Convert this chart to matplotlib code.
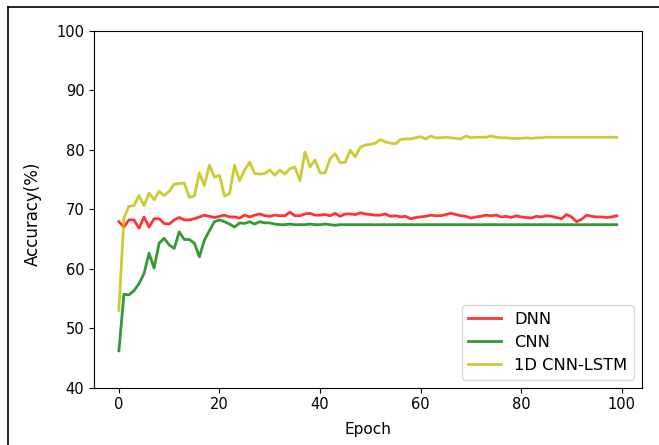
import matplotlib

matplotlib.use("Agg")
import matplotlib.pyplot as plt
from matplotlib.lines import Line2D
import numpy as np

W, H = 659, 445

# accuracy per epoch
dnn = [67.9, 67.0, 68.2, 68.2, 66.8, 68.7, 67.0, 68.4, 68.4, 67.6,
       67.5, 68.2, 68.6, 68.2, 68.2, 68.4, 68.7, 69.0, 68.8, 68.6,
       68.8, 69.0, 68.7, 68.7, 68.5, 69.0, 68.7, 69.0, 69.2, 68.9,
       68.8, 69.0, 68.9, 68.9, 69.5, 68.9, 68.9, 69.2, 69.3, 69.0,
       69.0, 69.1, 68.9, 69.3, 68.8, 69.2, 69.2, 69.1, 69.4, 69.2,
       69.1, 69.0, 69.0, 69.2, 68.8, 68.9, 68.7, 68.8, 68.4, 68.6,
       68.7, 68.8, 69.0, 68.9, 68.9, 69.1, 69.3, 69.1, 68.9, 68.8,
       68.5, 68.7, 68.8, 69.0, 68.9, 69.0, 68.7, 68.8, 68.6, 68.9,
       68.7, 68.6, 68.5, 68.8, 68.7, 68.9, 68.8, 68.6, 68.4, 69.1,
       68.7, 67.9, 68.3, 69.0, 68.8, 68.7, 68.7, 68.6, 68.7, 68.9]

cnn = [46.2, 55.7, 55.6, 56.3, 57.5, 59.2, 62.6, 60.1, 64.3, 65.1,
       64.0, 63.4, 66.2, 64.9, 64.9, 64.3, 62.0, 64.8, 66.4, 67.9,
       68.2, 67.9, 67.5, 67.0, 67.7, 67.6, 67.9, 67.5, 67.9, 67.7,
       67.7, 67.5, 67.4, 67.4, 67.5, 67.4, 67.4, 67.4, 67.5, 67.4,
       67.4, 67.5, 67.4, 67.3, 67.4, 67.4, 67.4, 67.4, 67.4, 67.4,
       67.4, 67.4, 67.4, 67.4, 67.4, 67.4, 67.4, 67.4, 67.4, 67.4,
       67.4, 67.4, 67.4, 67.4, 67.4, 67.4, 67.4, 67.4, 67.4, 67.4,
       67.4, 67.4, 67.4, 67.4, 67.4, 67.4, 67.4, 67.4, 67.4, 67.4,
       67.4, 67.4, 67.4, 67.4, 67.4, 67.4, 67.4, 67.4, 67.4, 67.4,
       67.4, 67.4, 67.4, 67.4, 67.4, 67.4, 67.4, 67.4, 67.4, 67.4]

cnn_lstm = [53.0, 68.5, 70.5, 70.6, 72.3, 70.6, 72.7, 71.6, 73.0, 72.3,
            73.0, 74.2, 74.3, 74.4, 72.0, 72.2, 76.1, 74.0, 77.4, 75.4,
            75.7, 72.2, 72.6, 77.4, 74.8, 76.6, 77.9, 76.0, 75.9, 76.0,
            76.6, 75.7, 76.6, 75.9, 76.8, 77.1, 74.8, 79.6, 77.1, 78.3,
            76.1, 76.1, 78.5, 79.3, 77.8, 77.9, 79.9, 78.8, 80.4, 80.8,
            80.9, 81.1, 81.7, 81.3, 81.1, 81.0, 81.7, 81.8, 81.8, 82.0,
            82.2, 81.8, 82.3, 82.0, 82.0, 82.1, 82.0, 81.9, 81.8, 82.3,
            82.0, 82.1, 82.1, 82.1, 82.3, 82.1, 82.0, 82.0, 81.9, 81.9,
            81.9, 82.0, 81.9, 82.0, 82.0, 82.1, 82.1, 82.1, 82.1, 82.1,
            82.1, 82.1, 82.1, 82.1, 82.1, 82.1, 82.1, 82.1, 82.1, 82.1]

epochs = np.arange(len(dnn))

fig = plt.figure(figsize=(W / 100, H / 100), dpi=100)
ax = fig.add_axes([94 / W, 1 - 387.7 / H, (641.7 - 94) / W, (387.7 - 30.7) / H])

ax.plot(epochs, dnn, color="r", alpha=0.8, lw=2, label="DNN")
ax.plot(epochs, cnn, color="g", alpha=0.8, lw=2, label="CNN")
ax.plot(epochs, cnn_lstm, color="y", alpha=0.8, lw=2, label="1D CNN-LSTM")

ax.set_ylim(40, 100)
ax.tick_params(labelsize=10.5)
ax.set_xlabel("Epoch", fontsize=11, labelpad=7)
ax.set_ylabel("Accuracy(%)", fontsize=12)
ax.yaxis.set_label_coords(-0.096, 0.487)
ax.legend(loc="lower right", fontsize=11.7)

# screenshot frame (left and top edge only)
fig.add_artist(Line2D([8 / W, 8 / W], [0, 1 - 7 / H], color="black", lw=1.2))
fig.add_artist(Line2D([8 / W, 1], [1 - 7 / H, 1 - 7 / H], color="black", lw=1.2))

fig.savefig("out.png", dpi=100)
